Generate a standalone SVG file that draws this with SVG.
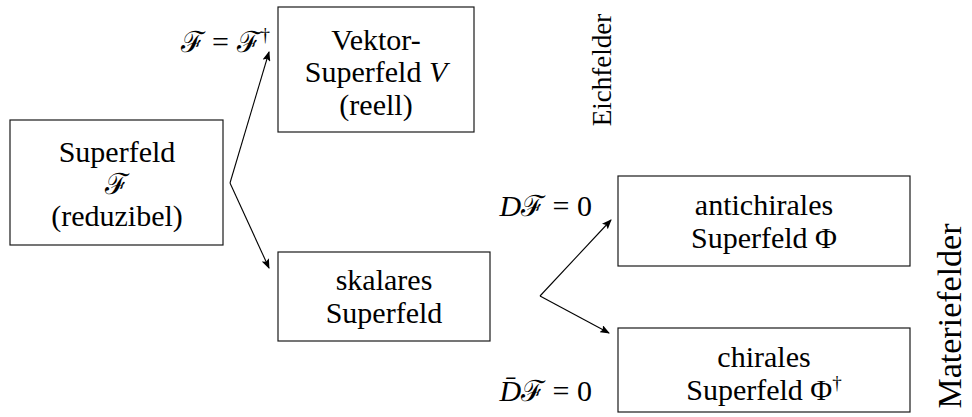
<svg xmlns="http://www.w3.org/2000/svg" width="972" height="417" viewBox="0 0 972 417" font-family="'Liberation Serif', 'DejaVu Serif', serif">
<style>
text{font-family:"Liberation Serif","DejaVu Serif",serif;fill:#000}
.box{fill:#fff;stroke:#1a1a1a;stroke-width:1.2}
.t{font-size:30px;text-anchor:middle}
.m{font-size:30px;text-anchor:end}
.i{font-style:italic}
.c{font-family:"DejaVu Serif","Liberation Serif",serif;font-style:normal;font-size:29px}
.sup{font-size:19px}
.side{font-size:27px;text-anchor:middle}
.arr{fill:none;stroke:#000;stroke-width:1.1;marker-end:url(#ah)}
</style>
<defs>
<marker id="ah" viewBox="0 0 10 8" refX="9" refY="4" markerWidth="10" markerHeight="8" markerUnits="userSpaceOnUse" orient="auto">
<path d="M0,0 L10,4 L0,8 L2,4 Z" fill="#000"/>
</marker>
</defs>
<g id="connectors">
<path class="arr" d="M230,183 L269,52"/>
<path class="arr" d="M230,183 L269,268"/>
<path class="arr" d="M540,296 L611,220"/>
<path class="arr" d="M540,296 L609,333"/>
</g>
<g id="labels">
<text class="m" x="270" y="52"><tspan class="c">ℱ</tspan> = <tspan class="c">ℱ</tspan><tspan class="sup" dy="-11">†</tspan></text>
<text class="m" x="592" y="216"><tspan class="i">D</tspan><tspan class="c">ℱ</tspan> = 0</text>
<text class="m" x="592" y="401"><tspan class="i">D̄</tspan><tspan class="c">ℱ</tspan> = 0</text>
</g>
<g id="superfeld">
<rect class="box" x="10" y="120" width="213" height="125"/>
<text class="t" x="117" y="162">Superfeld</text>
<text class="t" x="117" y="194"><tspan class="c">ℱ</tspan></text>
<text class="t" x="117" y="226">(reduzibel)</text>
</g>
<g id="vektor">
<rect class="box" x="278" y="7" width="196" height="125"/>
<text class="t" x="376" y="50">Vektor-</text>
<text class="t" x="376" y="82">Superfeld <tspan class="i">V</tspan></text>
<text class="t" x="376" y="115">(reell)</text>
</g>
<g id="skalar">
<rect class="box" x="278" y="252" width="212" height="89"/>
<text class="t" x="384" y="290">skalares</text>
<text class="t" x="384" y="323">Superfeld</text>
</g>
<g id="antichiral">
<rect class="box" x="618" y="176" width="292" height="90"/>
<text class="t" x="764" y="215">antichirales</text>
<text class="t" x="764" y="248">Superfeld Φ</text>
</g>
<g id="chiral">
<rect class="box" x="618" y="328" width="292" height="84"/>
<text class="t" x="764" y="367">chirales</text>
<text class="t" x="764" y="400">Superfeld Φ<tspan class="sup" dy="-11">†</tspan></text>
</g>
<g id="eichfelder">
<text class="side" x="611" y="70" transform="rotate(-90 611 70)">Eichfelder</text>
</g>
<g id="materiefelder">
<text class="side" x="961" y="316" style="font-size:34px" transform="rotate(-90 961 316)">Materiefelder</text>
</g>
</svg>
